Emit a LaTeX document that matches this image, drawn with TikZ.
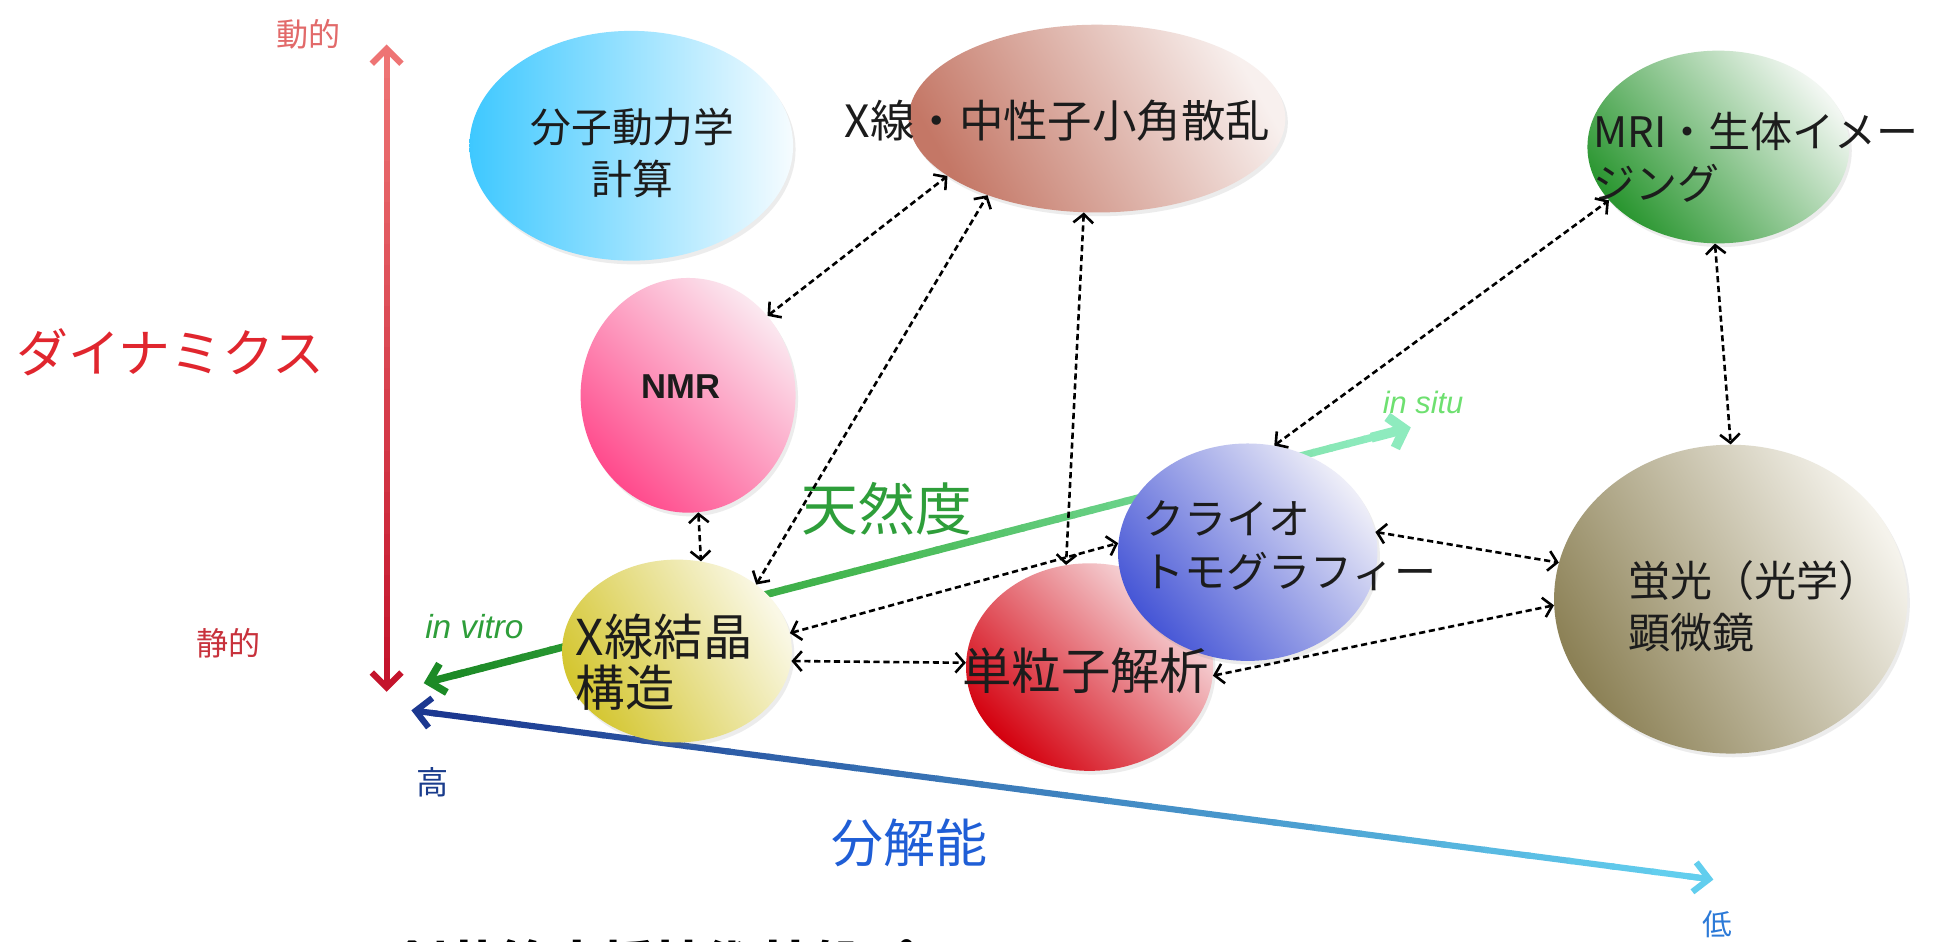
\documentclass[tikz,border=0pt]{standalone}
\usepackage{fontspec}
\setmainfont{Noto Sans CJK JP}
\newfontfamily\latinfont{Liberation Sans}
\usetikzlibrary{arrows.meta,calc,shapes.geometric,shadows}
\definecolor{mdA}{HTML}{3EC8FF}
\definecolor{mdB}{HTML}{F6FCFF}
\definecolor{saxA}{HTML}{C47766}
\definecolor{saxB}{HTML}{F8F0EE}
\definecolor{mriA}{HTML}{2A9630}
\definecolor{mriB}{HTML}{F2F7F2}
\definecolor{nmrA}{HTML}{FF4A8C}
\definecolor{nmrB}{HTML}{FBE8F0}
\definecolor{xrcA}{HTML}{D4C630}
\definecolor{xrcB}{HTML}{FAF8E6}
\definecolor{spaA}{HTML}{D4000E}
\definecolor{spaB}{HTML}{F8E4E6}
\definecolor{cryA}{HTML}{4656D6}
\definecolor{cryB}{HTML}{EEEEF8}
\definecolor{fluA}{HTML}{8C8156}
\definecolor{fluB}{HTML}{F5F3EC}
\definecolor{redTop}{HTML}{EE7474}
\definecolor{redBot}{HTML}{C4142C}
\definecolor{bluL}{HTML}{1C3890}
\definecolor{bluR}{HTML}{62CEEE}
\definecolor{grnL}{HTML}{1C8A26}
\definecolor{grnM}{HTML}{46B852}
\definecolor{grnR}{HTML}{8EEBBE}
\definecolor{dynred}{HTML}{E0262E}
\definecolor{dynlight}{HTML}{E26A6A}
\definecolor{statred}{HTML}{C8323C}
\definecolor{resblue}{HTML}{1F5ED6}
\definecolor{hiblue}{HTML}{1A3C8C}
\definecolor{loblue}{HTML}{2C7AD8}
\definecolor{natgreen}{HTML}{2E9E3A}
\definecolor{situgreen}{HTML}{6EE070}
\definecolor{inktext}{HTML}{1C1C1C}
\newcommand\mygradline[5]{%
  \foreach \k in {0,...,29}{%
    \pgfmathsetmacro\ta{\k/30}%
    \pgfmathsetmacro\tb{(\k+1)/30+0.004}%
    \pgfmathtruncatemacro\pc{100-100*\k/29}%
    \draw[line width=#5, color=#3!\pc!#4] ($(#1)!\ta!(#2)$) -- ($(#1)!\tb!(#2)$);
  }}
\tikzset{
  orb/.style n args={5}{ellipse, minimum width=#1, minimum height=#2, inner sep=0pt,
     top color=#4, bottom color=#3, shading angle=#5,
     drop shadow={shadow xshift=2pt, shadow yshift=-3pt, opacity=0.15}},
  lbl/.style={inner sep=0pt, text=inktext},
  link/.style={line width=2.1pt, dash pattern=on 5pt off 3pt, black,
     {Straight Barb[length=7pt,width=16pt]}-{Straight Barb[length=7pt,width=16pt]}},
  bighead/.style={-{Straight Barb[length=12pt,width=24pt]}},
}
\begin{document}
\begin{tikzpicture}[x=1pt,y=-1pt]
\useasboundingbox (0,0) rectangle (1568,762);
\fill[white] (0,0) rectangle (1568,762);

% axis coordinates
\coordinate (dynT) at (313,36);
\coordinate (dynB) at (313,560);
\coordinate (resH) at (333,575);
\coordinate (resL) at (1387,712);
\coordinate (natV) at (343,553);
\coordinate (natS) at (1142,346);
\coordinate (natM) at ($(natV)!0.45!(natS)$);

% red dynamics axis
\mygradline{$(dynT)!0.02!(dynB)$}{$(dynT)!0.98!(dynB)$}{redTop}{redBot}{5}
\draw[line width=5, redTop, bighead] ($(dynT)!0.03!(dynB)$) -- (dynT);
\draw[line width=5, redBot, bighead] ($(dynT)!0.97!(dynB)$) -- (dynB);

% blue resolution axis
\mygradline{$(resH)!0.015!(resL)$}{$(resH)!0.985!(resL)$}{bluL}{bluR}{5}
\draw[line width=5, bluL, bighead] ($(resH)!0.02!(resL)$) -- (resH);
\draw[line width=5, bluR, bighead] ($(resH)!0.98!(resL)$) -- (resL);

% green nativeness arrow
\mygradline{$(natV)!0.03!(natS)$}{natM}{grnL}{grnM}{6}
\mygradline{natM}{$(natV)!0.97!(natS)$}{grnM}{grnR}{6}
\draw[line width=6, grnL, -{Straight Barb[length=12pt,width=24pt]}] ($(natV)!0.04!(natS)$) -- (natV);
\draw[line width=8, grnR, -{Straight Barb[length=11pt,width=26pt]}] ($(natV)!0.96!(natS)$) -- (natS);

% method ellipses
\node[orb={262}{186}{mdA}{mdB}{-90}] (md) at (511,118) {};
\node[orb={305}{152}{saxA}{saxB}{-60}] (saxs) at (888,96) {};
\node[orb={212}{156}{mriA}{mriB}{-50}] (mri) at (1391,119) {};
\node[orb={174}{190}{nmrA}{nmrB}{-45}] (nmr) at (557,320) {};
\node[orb={186}{148}{xrcA}{xrcB}{-60}] (xrc) at (548,527) {};
\node[orb={200}{168}{spaA}{spaB}{-45}] (spa) at (882,540) {};
\node[orb={210}{176}{cryA}{cryB}{-50}] (cryo) at (1010,447) {};
\node[orb={286}{250}{fluA}{fluB}{-60}] (fluo) at (1401,485) {};

% texts inside ellipses
\node[lbl, align=center, font=\fontsize{33}{42}\selectfont] (mdtext) at (512,124) {分子動力学\\計算};
\node[lbl, font=\fontsize{36}{42}\selectfont] (saxstext) at (856,98) {X線・中性子小角散乱};
\node[lbl, align=left, anchor=west, font=\fontsize{34}{42}\selectfont] (mritext) at (1290,127) {MRI・生体イメー\\ジング};
\node[lbl, font=\latinfont\bfseries\fontsize{28}{34}\selectfont] (nmrtext) at (551,313) {NMR};
\node[lbl, align=left, anchor=west, font=\fontsize{40}{42}\selectfont] (xrctext) at (466,536) {X線結晶\\構造};
\node[lbl, font=\fontsize{40}{42}\selectfont] (spatext) at (879,543) {単粒子解析};
\node[lbl, align=left, anchor=west, font=\fontsize{34}{43}\selectfont] (cryotext) at (925,442) {クライオ\\トモグラフィー};
\node[lbl, align=left, anchor=west, font=\fontsize{34}{42}\selectfont] (flutext) at (1318,491) {蛍光（光学）\\顕微鏡};

% axis labels
\node[inner sep=0pt, text=dynlight, font=\fontsize{26}{30}\selectfont] (dynlab) at (250,28) {動的};
\node[inner sep=0pt, text=dynred, font=\fontsize{42}{46}\selectfont] (dynmain) at (138,285) {ダイナミクス};
\node[inner sep=0pt, text=statred, font=\fontsize{26}{30}\selectfont] (statlab) at (185,521) {静的};
\node[inner sep=0pt, text=hiblue, font=\fontsize{26}{30}\selectfont] (hilab) at (350,633) {高};
\node[inner sep=0pt, text=resblue, font=\fontsize{42}{46}\selectfont] (resmain) at (736,682) {分解能};
\node[inner sep=0pt, text=loblue, font=\fontsize{24}{28}\selectfont] (lolab) at (1390,748) {低};
\node[inner sep=0pt, text=natgreen, font=\fontsize{46}{50}\selectfont] (natmain) at (718,412) {天然度};
\node[inner sep=0pt, text=situgreen, font=\latinfont\itshape\fontsize{25}{30}\selectfont] (situlab) at (1152,326) {in situ};
\node[inner sep=0pt, text=natgreen, font=\latinfont\itshape\fontsize{27}{30}\selectfont] (vitrolab) at (384,507) {in vitro};

% bottom caption, cut by the page edge as in the source
\node[inner sep=0pt, anchor=base west, font=\bfseries\fontsize{42}{46}\selectfont] (caption) at (320,797) {創薬等支援技術基盤プラットフォーム};

% connectors
\draw[link] (nmr.45) -- (saxs.201);
\draw[link] (xrc.40) -- (saxs.215);
\draw[link] (nmr.275) -- (xrc.75);
\draw[link] (saxs.262) -- (spa.103);
\draw[link] (xrc.9) -- (cryo.176);
\draw[link] (xrc.355) -- (spa.178);
\draw[link] (cryo.76) -- (mri.206);
\draw[link] (mri.268) -- (fluo.90);
\draw[link] (cryo.9) -- (fluo.168);
\draw[link] (spa.356) -- (fluo.182);
\end{tikzpicture}
\end{document}
